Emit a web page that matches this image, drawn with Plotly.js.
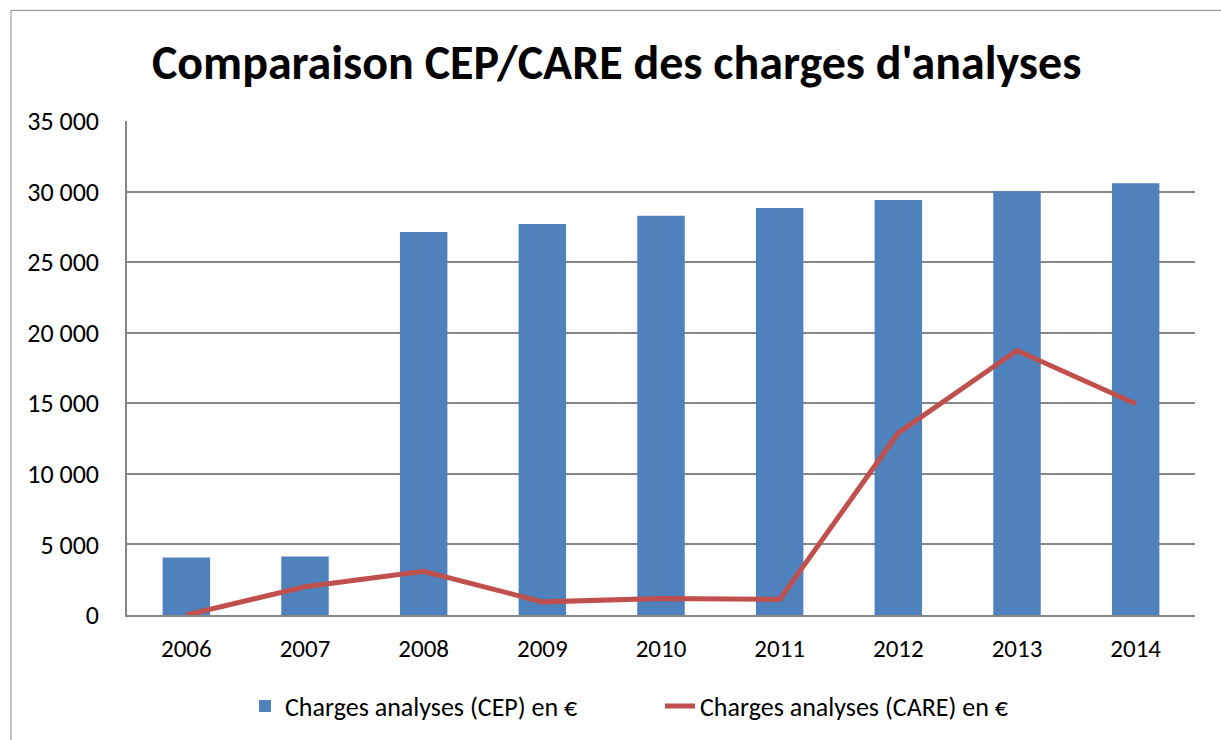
<!DOCTYPE html>
<html><head><meta charset="utf-8">
<script src="https://cdn.plot.ly/plotly-3.0.1.min.js"></script>
<style>html,body{margin:0;padding:0;background:#fff;}#chart{width:1221px;height:740px;}</style>
</head><body><div id="chart"></div>
<script>
const years = ['2006','2007','2008','2009','2010','2011','2012','2013','2014'];
const cepValues = [4070, 4140, 27140, 27710, 28280, 28840, 29410, 30020, 30590];
const careValues = [0, 2000, 3100, 930, 1170, 1100, 12900, 18740, 14970];
const cepName = 'Charges analyses (CEP) en €';
const careName = 'Charges analyses (CARE) en €';
const titleText = "Comparaison CEP/CARE des charges d'analyses";

const font = 'Carlito, Calibri, "Open Sans", sans-serif';
const traces = [
  {type:'bar', x:years, y:cepValues, name:cepName, marker:{color:'#4F81BD'}, legend:'legend'},
  {type:'scatter', mode:'lines', x:years, y:careValues, name:careName, line:{color:'#C0504D', width:5}, legend:'legend2'}
];
const legBase = {orientation:'h', y:-0.182, yanchor:'middle', xanchor:'left', font:{size:26}, bgcolor:'rgba(0,0,0,0)'};
const layout = {
  width:1221, height:740,
  margin:{l:127, r:26, t:121, b:124},
  paper_bgcolor:'#fff', plot_bgcolor:'#fff',
  font:{family:font, size:25, color:'#000'},
  separators:', ',
  title:{text:'<b>'+titleText+'</b>', font:{family:font, size:48, color:'#000'}, x:0.505, xanchor:'center', y:0.916, yanchor:'middle'},
  bargap:0.6,
  showlegend:true,
  legend:Object.assign({}, legBase, {x:(245-127)/1068}),
  legend2:Object.assign({}, legBase, {x:(660-127)/1068}),
  xaxis:{type:'category', showline:true, linecolor:'#868686', linewidth:1.5, ticks:'', tickfont:{size:25}, showgrid:false, ticklabelstandoff:10},
  yaxis:{range:[0,35000], tickvals:[0,5000,10000,15000,20000,25000,30000,35000], tickformat:',d', showgrid:true, gridcolor:'#868686', gridwidth:1.5, showline:true, linecolor:'#868686', linewidth:1.5, ticks:'', tickfont:{size:26}, zeroline:false, ticklabelstandoff:21},
  shapes:[{type:'rect', xref:'paper', yref:'paper', x0:-0.1086, x1:1.2, y0:-0.4, y1:1.224, line:{color:'#868686', width:1}, fillcolor:'rgba(0,0,0,0)', layer:'below'}]
};
Plotly.newPlot('chart', traces, layout, {displayModeBar:false});
</script></body></html>
